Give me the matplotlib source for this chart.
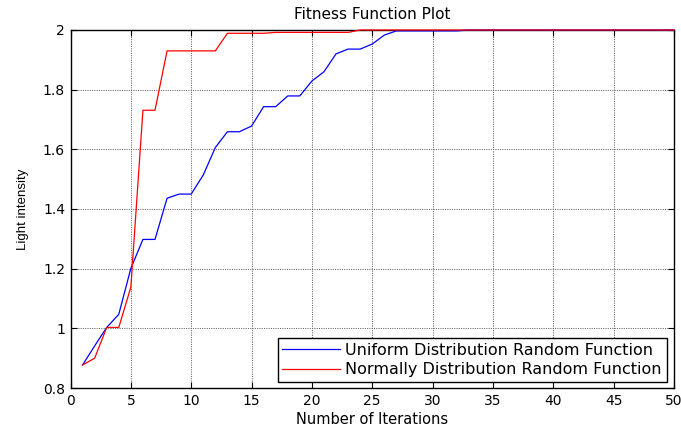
import numpy as np
import matplotlib
matplotlib.use("Agg")
import matplotlib.pyplot as plt
from matplotlib.ticker import FormatStrFormatter

plt.rcParams['font.family'] = ['DejaVu Sans']

iterations = list(range(1, 51))

uniform_fitness = [
    0.877, 0.941, 1.003, 1.047, 1.201, 1.298, 1.298, 1.436, 1.450, 1.450,
    1.514, 1.606, 1.659, 1.659, 1.678, 1.743, 1.743, 1.779, 1.779, 1.829,
    1.860, 1.920, 1.936, 1.936, 1.953, 1.983, 1.997, 1.997, 1.997, 1.997,
    1.997, 1.997, 2.000, 2.000, 2.000, 2.000, 2.000, 2.000, 2.000, 2.000,
    2.000, 2.000, 2.000, 2.000, 2.000, 2.000, 2.000, 2.000, 2.000, 2.000,
]

normal_fitness = [
    0.877, 0.900, 1.003, 1.003, 1.138, 1.731, 1.731, 1.930, 1.930, 1.930,
    1.930, 1.930, 1.989, 1.989, 1.989, 1.989, 1.992, 1.992, 1.992, 1.992,
    1.992, 1.992, 1.992, 2.000, 2.000, 2.000, 2.000, 2.000, 2.000, 2.000,
    2.000, 2.000, 2.000, 2.000, 2.000, 2.000, 2.000, 2.000, 2.000, 2.000,
    2.000, 2.000, 2.000, 2.000, 2.000, 2.000, 2.000, 2.000, 2.000, 2.000,
]

series_labels = ["Uniform Distribution Random Function",
                 "Normally Distribution Random Function"]
x_ticks = list(range(0, 51, 5))
y_ticks = [0.8, 1.0, 1.2, 1.4, 1.6, 1.8, 2.0]

fig = plt.figure(figsize=(6.81, 4.28), dpi=100)
ax = fig.add_axes([70.5 / 681, 40 / 428, 603.5 / 681, 358 / 428])

ax.plot(iterations, uniform_fitness, color='#0000ff', lw=0.9,
        label=series_labels[0], zorder=3, clip_on=False)
ax.plot(iterations, normal_fitness, color='#ff0000', lw=0.9,
        label=series_labels[1], zorder=3, clip_on=False)

ax.set_xlim(0, 50)
ax.set_ylim(0.8, 2.0)
ax.set_xticks(x_ticks)
ax.set_yticks(y_ticks)
ax.yaxis.set_major_formatter(FormatStrFormatter('%g'))

ax.grid(True, color='0.4', linestyle=(0, (1, 1.2)), linewidth=0.75)
ax.set_axisbelow(True)
ax.tick_params(direction='in', top=True, right=True, length=4,
               width=0.8, labelsize=10, pad=4)
for s in ax.spines.values():
    s.set_linewidth(1.0)

ax.set_title("Fitness Function Plot", fontsize=11, pad=8)
ax.set_xlabel("Number of Iterations", fontsize=10.5, labelpad=3)
ax.set_ylabel("Light intensity", fontsize=9.5, labelpad=10,
              family=['Liberation Sans', 'DejaVu Sans'])

leg = ax.legend(loc='lower right', bbox_to_anchor=(0.988, 0.016),
                borderaxespad=0, fontsize=11.5, fancybox=False,
                framealpha=1, edgecolor='black', handlelength=3.6,
                labelspacing=0.3, borderpad=0.3, handletextpad=0.35)
leg.get_frame().set_linewidth(1.0)

fig.savefig("out.png", dpi=100)
